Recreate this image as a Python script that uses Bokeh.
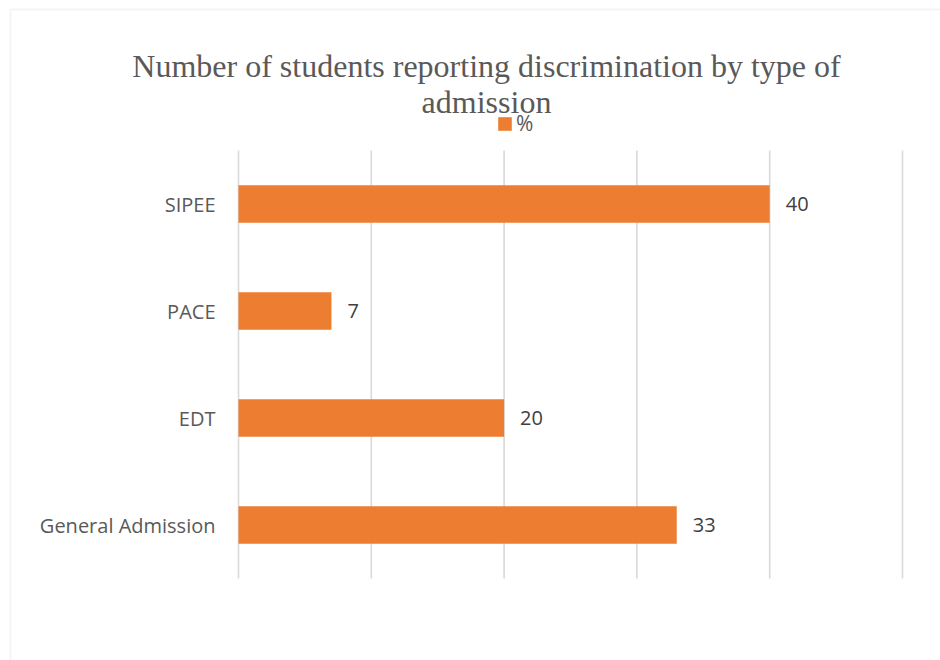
from bokeh.plotting import figure
from bokeh.models import (ColumnDataSource, Range1d, Label, BoxAnnotation,
                          Legend, LegendItem)
from bokeh.core.properties import value
from bokeh.embed import file_html
from bokeh.resources import INLINE

categories = ["General Admission", "EDT", "PACE", "SIPEE"]
percent = [33, 20, 7, 40]
series_name = "%"
title_line1 = "Number of students reporting discrimination by type of"
title_line2 = "admission"
x_ticks = [0, 10, 20, 30, 40, 50]

W, H = 940, 660
FL, FR, FT, FB = 238, 902, 150, 578          # plot-area edges in page pixels
k = (FR - FL) / 50.0                          # px per unit on x
u = (FB - FT) / len(categories)               # px per category on y

x0 = -FL / k
x1 = 50 + (W - FR) / k
y_bot = -0.5 - (H - FB) / u
y_top = len(categories) - 0.5 + FT / u

ypos = list(range(len(categories)))
src = ColumnDataSource(dict(cat=categories, y=ypos, val=percent,
                            lab=[str(v) for v in percent]))

p = figure(width=W, height=H, output_backend="svg", toolbar_location=None,
           x_range=Range1d(x0, x1), y_range=Range1d(y_bot, y_top),
           min_border=0)
p.outline_line_color = None
p.background_fill_color = "white"
p.border_fill_color = "white"
p.xaxis.visible = False
p.yaxis.visible = False
p.grid.visible = False

# chart area border (top and left visible)
p.add_layout(BoxAnnotation(left=10, right=3000, top=H - 9, bottom=-3000,
                           left_units="screen", right_units="screen",
                           top_units="screen", bottom_units="screen",
                           fill_color=None, line_color="#d9d9d9", line_width=2,
                           level="underlay"))

# vertical gridlines
p.segment(x0=x_ticks, x1=x_ticks, y0=[-0.5] * len(x_ticks),
          y1=[len(categories) - 0.5] * len(x_ticks),
          line_color="#d9d9d9", line_width=1.6)

r = p.hbar(y="y", right="val", left=0, height=0.35, source=src,
           fill_color="#ED7D31", line_color=None)

# category labels
p.text(x=0, y="y", text="cat", source=src, x_offset=-23,
       text_align="right", text_baseline="middle",
       text_font=value("Open Sans"), text_font_size="20px", text_color="#595959")

# data labels
p.text(x="val", y="y", text="lab", source=src, x_offset=16,
       text_align="left", text_baseline="middle",
       text_font=value("Open Sans"), text_font_size="20px", text_color="#404040")

cx = 486
p.add_layout(Label(x=cx, y=H - 65, x_units="screen", y_units="screen", text=title_line1,
                   text_align="center", text_baseline="alphabetic",
                   text_font="Liberation Serif", text_font_size="32px", text_color="#595959"))
p.add_layout(Label(x=cx, y=H - 101, x_units="screen", y_units="screen", text=title_line2,
                   text_align="center", text_baseline="alphabetic",
                   text_font="Liberation Serif", text_font_size="32px", text_color="#595959"))

leg = Legend(items=[LegendItem(label=series_name, renderers=[r])],
             location=(496, H - 137), orientation="horizontal",
             glyph_width=17, glyph_height=17, label_standoff=3, padding=0, margin=0,
             border_line_color=None, background_fill_alpha=0,
             label_text_font="Open Sans", label_text_font_size="21px",
             label_text_color="#595959", label_height=17)
p.add_layout(leg)

open("out.html", "w").write(file_html(p, INLINE))
